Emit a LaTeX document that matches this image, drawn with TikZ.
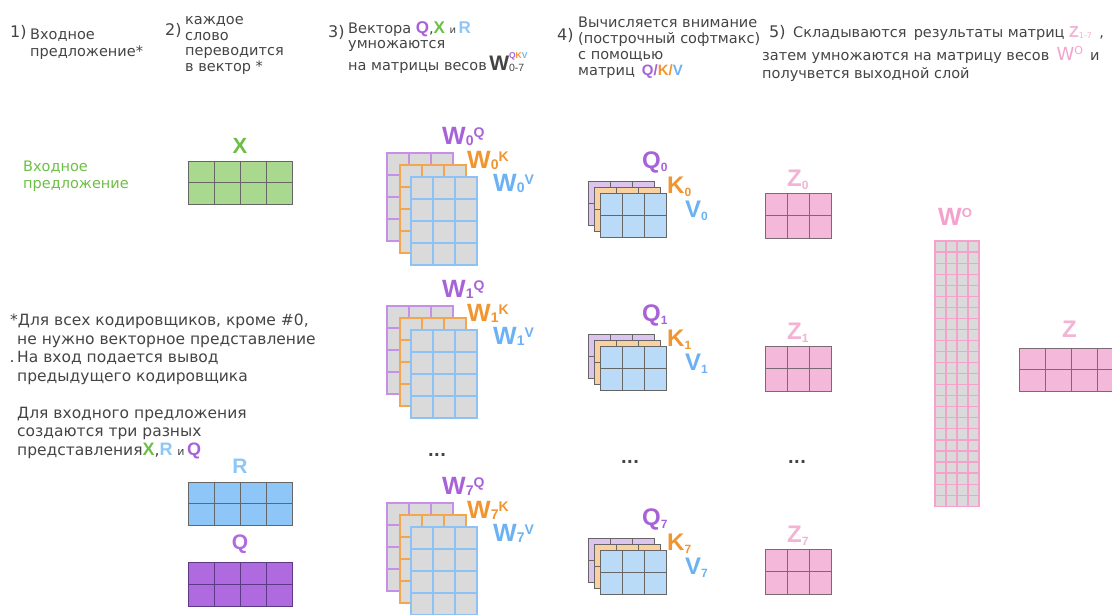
\documentclass[tikz,border=0pt]{standalone}
\usepackage{fontspec}
\setmainfont{DejaVu Sans}
\newfontfamily\lblfont{Liberation Sans}
\usetikzlibrary{positioning}

\definecolor{txtgray}{HTML}{444444}
\definecolor{gridline}{HTML}{666666}
\definecolor{xgreen}{HTML}{A9D98F}
\definecolor{xgreentxt}{HTML}{6CBF45}
\definecolor{rblue}{HTML}{8EC6F8}
\definecolor{qfill}{HTML}{B06AE0}
\definecolor{qline}{HTML}{5E3A86}
\definecolor{qpurple}{HTML}{A862D8}
\definecolor{korange}{HTML}{F0952F}
\definecolor{wblue}{HTML}{6CB2F2}
\definecolor{wgray}{HTML}{DADADA}
\definecolor{wpline}{HTML}{C690E6}
\definecolor{woline}{HTML}{F2A650}
\definecolor{wbline}{HTML}{8CC2F4}
\definecolor{qkvpurple}{HTML}{DCC4EE}
\definecolor{qkvorange}{HTML}{F9D09F}
\definecolor{qkvblue}{HTML}{B9DBF8}
\definecolor{zpink}{HTML}{F4B9DA}
\definecolor{zline}{HTML}{7A6A72}
\definecolor{zlbl}{HTML}{F2B3D4}
\definecolor{wopink}{HTML}{F4A2CC}

% grid of cells: x, y (top left), cols, rows, cell w, cell h, style
\newcommand{\cellgrid}[7]{%
  \foreach \ci in {1,...,#3}{%
    \foreach \ri in {1,...,#4}{%
      \draw[#7] ({#1+(\ci-1)*#5},{#2+(\ri-1)*#6}) rectangle ++(#5,#6);
    }%
  }%
}
\newcommand{\wsub}[1]{\raisebox{-1pt}{\fontsize{14}{14}\selectfont#1}}
\newcommand{\wsup}[1]{\raisebox{7pt}{\fontsize{14}{14}\selectfont#1}}
\newcommand{\qsub}[1]{\raisebox{-3pt}{\fontsize{12}{12}\selectfont#1}}
\newcommand{\clrlet}[3]{{\lblfont\bfseries\fontsize{#1}{#1}\selectfont\textcolor{#2}{#3}}}

\begin{document}
\begin{tikzpicture}[x=1pt, y=-1pt,
    hdr/.style={anchor=base west, inner sep=0pt, align=left, text=txtgray,
    font=\fontsize{14.5}{15.5}\selectfont},
    hnum/.style={anchor=base west, inner sep=0pt, text=txtgray,
    font=\fontsize{16}{16}\selectfont},
    note/.style={anchor=base west, inner sep=0pt, align=left, text=txtgray,
    font=\fontsize{15.5}{18.5}\selectfont},
    lbl/.style={anchor=base west, inner sep=0pt,
    font=\lblfont\bfseries\fontsize{24}{24}\selectfont},
    wlbl/.style={lbl, font=\lblfont\bfseries\fontsize{25}{25}\selectfont},
    dots/.style={inner sep=0pt, text=txtgray, font=\bfseries\fontsize{16}{16}\selectfont},
    ccell/.style={draw=gridline, line width=1pt},
    wcell/.style={fill=wgray, line width=1.6pt}
]
\useasboundingbox (0,0) rectangle (1112,614);

% headers
\node[hnum] (n1) at (10,37) {1)};
\node[hdr, font=\fontsize{14.5}{17}\selectfont] (h1) at (30,56) {Входное\\предложение*};
\node[hnum] (n2) at (165,35) {2)};
\node[hdr] (h2) at (185,71) {каждое\\слово\\переводится\\в вектор *};
\node[hnum] (n3) at (328,37) {3)};
\node[hdr] (h3) at (348,70) {Вектора \clrlet{17}{qpurple}{Q},\clrlet{17}{xgreentxt}{X}
  {\fontsize{10}{10}\selectfont и}\,\clrlet{17}{rblue}{R}\\умножаются\\на матрицы весов\,%
  \clrlet{21}{txtgray}{W}\rlap{\raisebox{11.5pt}{\lblfont\bfseries\fontsize{8.5}{9}\selectfont
  \textcolor{qpurple}{Q}\textcolor{korange}{K}\textcolor{wblue}{V}}}\raisebox{-1.5pt}{\lblfont\fontsize{10.5}{11}\selectfont 0-7}};
\node[hnum] (n4) at (557,40) {4)};
\node[hdr, font=\fontsize{14.5}{15.7}\selectfont] (h4) at (578,75) {Вычисляется внимание\\(построчный софтмакс)\\с помощью\\матриц\,
  \clrlet{15}{qpurple}{Q/}\clrlet{15}{korange}{K/}\clrlet{15}{wblue}{V}};
\node[hnum] (n5) at (769,37) {5)};
\node[hdr] (h5a) at (793,37) {Складываются\enspace результаты матриц
  \clrlet{16}{zlbl}{Z}\raisebox{-1pt}{\textcolor{zlbl}{\fontsize{8}{8}\selectfont 1-7}}\enspace,};
\node[hdr] (h5b) at (762,60) {затем умножаются на матрицу весов\enspace
  {\fontsize{18}{18}\selectfont\textcolor{wopink}{W}}\raisebox{6pt}{\fontsize{11}{11}\selectfont\textcolor{wopink}{O}}\enspace и};
\node[hdr] (h5c) at (762,78) {получвется выходной слой};

% input sentence
\node[note, text=xgreentxt, font=\fontsize{14.5}{17}\selectfont] (inlbl) at (23,188) {Входное\\предложение};
\node[lbl, anchor=base, font=\lblfont\bfseries\fontsize{22}{22}\selectfont, text=xgreentxt] (xlbl) at (240,153) {X};
\cellgrid{188}{161}{4}{2}{26}{21.5}{fill=xgreen, ccell}

% footnote
\node[note] (fnote) at (10,455) {*Для всех кодировщиков, кроме \#0,\\
  \hspace*{7pt}не нужно векторное представление\\
  \hspace*{7pt}\llap{.\,}На вход подается вывод\\
  \hspace*{7pt}предыдущего кодировщика\\[18.5pt]
  \hspace*{7pt}Для входного предложения\\
  \hspace*{7pt}создаются три разных\\
  \hspace*{7pt}представления\clrlet{18}{xgreentxt}{X},\clrlet{18}{rblue}{R}
  {\fontsize{11}{11}\selectfont и}\,\clrlet{18}{qpurple}{Q}};

\node[lbl, anchor=base, font=\lblfont\bfseries\fontsize{21}{21}\selectfont, text=rblue] (rlbl) at (240,473) {R};
\cellgrid{188}{482}{4}{2}{26}{21.5}{fill=rblue, ccell}
\node[lbl, anchor=base, font=\lblfont\bfseries\fontsize{21}{21}\selectfont, text=qfill] (qlbl) at (240,549) {Q};
\cellgrid{188}{562}{4}{2}{26}{22}{fill=qfill, ccell, draw=qline}

% weight matrices W_k^Q, W_k^K, W_k^V
\foreach \k/\t in {0/153, 1/306, 7/503}{
  \cellgrid{387}{\t}{3}{4}{22}{22}{wcell, draw=wpline}
  \cellgrid{400}{\t+12}{3}{4}{22}{22}{wcell, draw=woline}
  \cellgrid{411}{\t+24}{3}{4}{22}{22}{wcell, draw=wbline}
  \node[wlbl, text=qpurple] (wq\k) at (442,\t-9) {W\wsub{\k}\wsup{Q}};
  \node[wlbl, text=korange] (wk\k) at (467,\t+15) {W\wsub{\k}\wsup{K}};
  \node[wlbl, text=wblue] (wv\k) at (493,\t+38) {W\wsub{\k}\wsup{V}};
}
\node[dots] (wdots) at (437,455) {...};

% Q, K, V
\foreach \k/\t in {0/181, 1/334, 7/538}{
  \cellgrid{588}{\t}{3}{2}{22}{22}{fill=qkvpurple, ccell}
  \cellgrid{594}{\t+6}{3}{2}{22}{22}{fill=qkvorange, ccell}
  \cellgrid{600}{\t+12}{3}{2}{22}{22}{fill=qkvblue, ccell}
  \node[lbl, text=qpurple] (q\k) at (642,\t-13) {Q\qsub{\k}};
  \node[lbl, text=korange] (k\k) at (667,\t+12) {K\qsub{\k}};
  \node[lbl, text=wblue] (v\k) at (685,\t+36) {V\qsub{\k}};
}
\node[dots] (qdots) at (630,462) {...};

% Z
\foreach \k/\t in {0/193, 1/346, 7/549}{
  \cellgrid{765}{\t}{3}{2}{22}{22.5}{fill=zpink, ccell, draw=zline}
  \node[lbl, text=zlbl] (z\k) at (787,\t-7) {Z\qsub{\k}};
}
\node[dots] (zdots) at (797,462) {...};

% W^O
\node[wlbl, text=wopink] (wo) at (938,225) {W\raisebox{8pt}{\fontsize{13}{13}\selectfont O}};
\cellgrid{935}{241}{4}{24}{11}{11.05}{fill=wgray, draw=wopink, line width=1.2pt}

% output
\node[lbl, text=zlbl] (zout) at (1062,337) {Z};
\cellgrid{1019}{348}{4}{2}{26}{21.5}{fill=zpink, ccell, draw=zline}
\end{tikzpicture}
\end{document}
